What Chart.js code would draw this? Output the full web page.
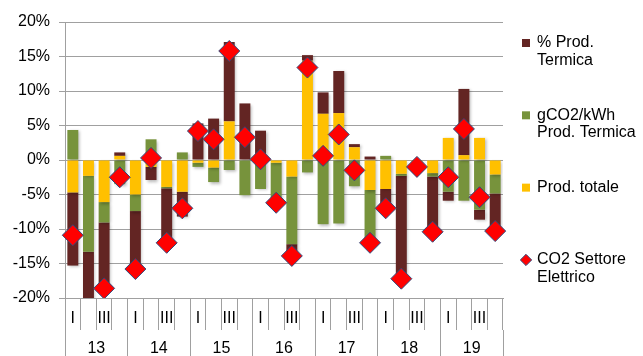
<!DOCTYPE html>
<html>
<head>
<meta charset="utf-8">
<script src="https://cdn.jsdelivr.net/npm/chart.js@4/dist/chart.umd.min.js"></script>
<style>
  html, body { margin: 0; padding: 0; background: #ffffff; }
  canvas { display: block; }
</style>
</head>
<body>
<canvas id="c" width="643" height="356"></canvas>
<script>
// ---- data (percent) ----
const yearLabels = ['13', '14', '15', '16', '17', '18', '19'];
const quarterNames = ['I', 'II', 'III', 'IV'];
const quarterTickLabels = ['I', '', 'III', ''];
const categories = yearLabels.flatMap(y => quarterNames.map(q => y + ' ' + q));

const seriesNames = ['Prod. totale', 'gCO2/kWh Prod. Termica', '% Prod. Termica', 'CO2 Settore Elettrico'];

// Prod. totale (yellow)
const prodTotale = [
  -4.7, -2.3, -6.1, 0.6,
  -5.0, -1.0, -3.9, -4.6,
  -0.4, -1.1, 5.6, 0,
  0, -0.4, -2.4, 14.4,
  6.7, 6.8, 1.85, -4.35,
  -4.2, -2.0, -0.6, -1.9,
  3.2, 0.7, 3.2, -2.1
];
// gCO2/kWh Prod. Termica (green)
const gco2ProdTermica = [
  4.35, -11.0, -2.95, -3.5,
  -2.4, 3.0, -0.2, 1.1,
  -0.6, -2.1, -1.45, -5.1,
  -4.2, -5.8, -9.8, -1.8,
  -9.3, -9.2, -3.8, -8.0,
  0.6, -0.3, 0, -0.5,
  -4.6, -5.9, -7.2, -2.75
];
// % Prod. Termica (dark red)
const percProdTermica = [
  -10.6, -6.9, -9.5, 0.5,
  -8.5, -1.9, -8.0, -3.6,
  5.3, 6.0, 11.5, 8.2,
  4.25, 0, -1.7, 0.8,
  3.1, 6.1, 0.45, 0.5,
  -3.0, -15.1, -0.4, -8.0,
  -1.3, 9.6, -1.45, -5.55
];
// CO2 Settore Elettrico (red diamonds)
const co2SettoreElettrico = [
  -10.9, -20.3, -18.6, -2.5,
  -15.8, 0.3, -12.0, -7.0,
  4.2, 3.0, 15.8, 3.3,
  0.1, -6.2, -13.9, 13.4,
  0.6, 3.7, -1.5, -12.0,
  -7.0, -17.2, -1.0, -10.4,
  -2.5, 4.5, -5.4, -10.3
];

const yMin = -20, yMax = 20, yStep = 5;

// ---- styling ----
const FONT = 'Liberation Sans, Arial, sans-serif';
const GRID = '#a0a0a0';
const legendLines = {
  0: ['CO2 Settore', 'Elettrico', ''],
  1: ['Prod. totale', '', ''],
  2: ['gCO2/kWh', 'Prod. Termica', ''],
  3: ['% Prod.', 'Termica', '']
};
const legendOrder = [3, 2, 1, 0];

const barShadow = {
  id: 'barShadow',
  beforeDatasetDraw(chart, args) {
    if (args.meta.type === 'bar') {
      const ctx = chart.ctx;
      ctx.save();
      ctx.shadowColor = 'rgba(0,0,0,0.28)';
      ctx.shadowBlur = 3;
      ctx.shadowOffsetX = 1.5;
      ctx.shadowOffsetY = 1.5;
    }
  },
  afterDatasetDraw(chart, args) {
    if (args.meta.type === 'bar') chart.ctx.restore();
  }
};

new Chart(document.getElementById('c'), {
  data: {
    labels: categories,
    datasets: [
      {
        type: 'line',
        label: seriesNames[3],
        data: co2SettoreElettrico,
        showLine: false,
        order: -1,
        pointStyle: 'rectRot',
        pointRadius: ctx => (ctx.raw < yMin || ctx.raw > yMax) ? 0 : 10.5,
        pointHoverRadius: 10.5,
        pointBackgroundColor: '#FF0000',
        pointBorderColor: '#2E4A7D',
        pointBorderWidth: 1,
        backgroundColor: '#FF0000',
        borderColor: '#2E4A7D',
        borderWidth: 1
      },
      { type: 'bar', label: seriesNames[0], data: prodTotale, backgroundColor: '#FFC000', borderWidth: 0 },
      { type: 'bar', label: seriesNames[1], data: gco2ProdTermica, backgroundColor: '#77933C', borderWidth: 0 },
      { type: 'bar', label: seriesNames[2], data: percProdTermica, backgroundColor: '#632523', borderWidth: 0 }
    ]
  },
  plugins: [barShadow],
  options: {
    responsive: false,
    animation: false,
    devicePixelRatio: 1,
    categoryPercentage: 0.7,
    barPercentage: 1.0,
    layout: { padding: { top: 15, left: 0, right: 0, bottom: 0 } },
    plugins: {
      tooltip: { enabled: false },
      legend: {
        position: 'right',
        align: 'start',
        maxWidth: 140,
        labels: {
          usePointStyle: true,
          boxWidth: 6,
          boxHeight: 8,
          padding: 20,
          color: '#000000',
          font: { family: FONT, size: 16, lineHeight: 1.09 },
          generateLabels(chart) {
            const items = Chart.defaults.plugins.legend.labels.generateLabels(chart);
            return legendOrder.map(di => {
              const it = items.find(i => i.datasetIndex === di);
              it.text = legendLines[di];
              it.pointStyle = di === 0 ? 'rectRot' : 'rect';
              return it;
            });
          }
        }
      }
    },
    scales: {
      x: {
        type: 'category',
        position: 'bottom',
        stacked: true,
        offset: true,
        grid: { offset: true, drawOnChartArea: false, drawTicks: true, tickLength: 32, color: GRID, lineWidth: 1 },
        border: { display: true, color: GRID },
        ticks: {
          autoSkip: false, maxRotation: 0, minRotation: 0, padding: -21,
          color: '#000000', font: { family: FONT, size: 16 },
          callback: (v, i) => quarterTickLabels[i % 4]
        },
        afterFit(s) { s.height = 32; }
      },
      x2: {
        type: 'category',
        position: 'bottom',
        labels: yearLabels,
        offset: true,
        grid: { offset: true, drawOnChartArea: false, drawTicks: true, tickLength: 26, color: GRID, lineWidth: 1 },
        border: { display: false },
        ticks: {
          autoSkip: false, maxRotation: 0, minRotation: 0, padding: -17,
          color: '#000000', font: { family: FONT, size: 16 }
        },
        afterFit(s) { s.height = 26; }
      },
      y: {
        stacked: true,
        min: yMin,
        max: yMax,
        grid: { color: GRID, lineWidth: 1, tickLength: 6 },
        border: { display: true, color: GRID },
        ticks: {
          stepSize: yStep, padding: 9,
          color: '#000000', font: { family: FONT, size: 16 },
          callback: v => v + '%'
        },
        afterFit(s) { s.width = 65; s.paddingTop = 22; }
      }
    }
  }
});
</script>
</body>
</html>
